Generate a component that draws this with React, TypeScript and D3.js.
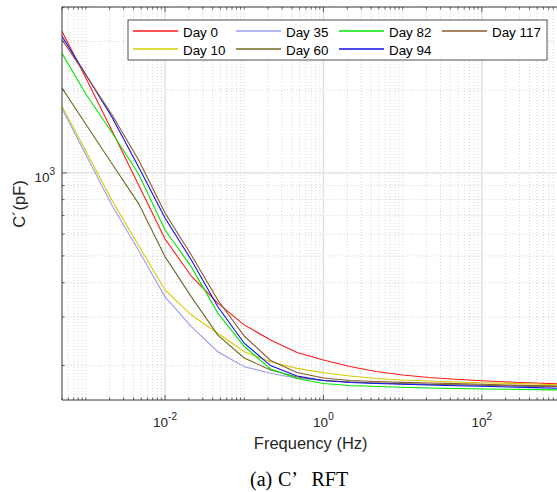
import React from "react";
import * as d3 from "d3";

const freq = [4.64e-4, 1e-3, 2.15e-3, 4.64e-3, 0.01, 0.0215, 0.0464, 0.1, 0.215, 0.464, 1, 2.15, 4.64, 10, 21.5, 46.4, 100, 215, 464, 1000];

const day0 = [3400, 2210, 1419, 904, 576, 422, 337, 281, 247.5, 223, 209.5, 198.4, 190.3, 184.8, 181, 178.3, 176.2, 174.3, 172.9, 171.4];
const day10 = [1816, 1201, 793, 545, 376, 305, 262, 224.5, 206.5, 195.4, 188.4, 183.3, 179.5, 177.2, 175.8, 174.3, 173.3, 172.4, 171.4, 170.0];
const day35 = [1783, 1165, 762, 523, 355, 277, 224.5, 198, 187.5, 179.8, 176.5, 174.3, 172.9, 171.8, 170.7, 170.0, 169.3, 168.6, 168.1, 167.5];
const day60 = [2102, 1501, 1077, 774, 497, 355, 258, 213, 192.7, 181.7, 176.5, 174.3, 172.9, 171.9, 171.0, 170.3, 169.6, 169.0, 168.5, 167.9];
const day82 = [2816, 1933, 1396, 991, 621, 456, 310, 235, 194.3, 179.5, 172.1, 169.3, 167.9, 166.8, 165.8, 165.1, 164.4, 164.0, 163.6, 163.1];
const day94 = [3245, 2275, 1589, 1050, 686, 483, 327, 241, 200, 183.3, 176.5, 173.6, 172.1, 171.0, 170.0, 169.0, 168.2, 167.3, 166.4, 165.4];
const day117 = [3138, 2266, 1622, 1114, 715, 504, 346, 256, 208.6, 188.7, 180.3, 176.5, 175, 173.8, 172.9, 172.0, 171.0, 170.0, 169.2, 168.3];

const seriesNames = ["Day 0", "Day 10", "Day 35", "Day 60", "Day 82", "Day 94", "Day 117"];
const seriesValues = [day0, day10, day35, day60, day82, day94, day117];
const seriesColors = ["#ff1a1a", "#d6cc00", "#9c9cf0", "#6e6a22", "#00e600", "#1010ee", "#8c5a2e"];

const xMajor = [1e-2, 1, 100];
const xMajorExp = ["-2", "0", "2"];
const yMajor = [1000];
const yMajorExp = ["3"];

const W = 557;
const H = 492;
const L = 62, R = 561, T = 7, B = 400;

export default function App() {
  const x = d3.scaleLog().domain([5e-4, 1000]).range([L, R]);
  const y = d3.scaleLog().domain([150, 4000]).range([B, T]);

  const xMinor: number[] = [];
  for (let e = -4; e <= 3; e++) {
    for (let m = 1; m <= 9; m++) {
      const v = m * Math.pow(10, e);
      if (v >= 5e-4 * 0.999 && v <= 1000 * 1.001 && !xMajor.some((t) => Math.abs(t - v) / t < 1e-6)) xMinor.push(v);
    }
  }
  const yMinor: number[] = [];
  for (let e = 2; e <= 3; e++) {
    for (let m = 1; m <= 9; m++) {
      const v = m * Math.pow(10, e);
      if (v >= 150 && v <= 4000 * 1.001 && v !== 1000) yMinor.push(v);
    }
  }

  const line = d3
    .line<number>()
    .x((_, i) => x(freq[i]))
    .y((d) => y(d));

  const axisColor = "#3a3a3a";
  const font = "'Liberation Sans', Arial, Helvetica, sans-serif";

  const legendCols = [133, 236, 339, 442];
  const legendRows = [31, 49];

  return (
    <svg width={W} height={H} style={{ position: "absolute", left: 0, top: 0, background: "#fff" }} fontFamily={font}>
      <defs>
        <clipPath id="plotclip">
          <rect x={L} y={T} width={R - L} height={B - T} />
        </clipPath>
      </defs>
      <rect x={0} y={0} width={W} height={H} fill="#fff" />
      {/* minor grid */}
      {xMinor.map((v, i) => (
        <line key={"xg" + i} x1={x(v)} x2={x(v)} y1={T} y2={B} stroke="#c4c4c4" strokeWidth={0.7} strokeDasharray="1 2" />
      ))}
      {yMinor.map((v, i) => (
        <line key={"yg" + i} x1={L} x2={R} y1={y(v)} y2={y(v)} stroke="#c4c4c4" strokeWidth={0.7} strokeDasharray="1 2" />
      ))}
      {/* major grid */}
      {xMajor.map((v, i) => (
        <line key={"xG" + i} x1={x(v)} x2={x(v)} y1={T} y2={B} stroke="#dedede" strokeWidth={1.3} />
      ))}
      {yMajor.map((v, i) => (
        <line key={"yG" + i} x1={L} x2={R} y1={y(v)} y2={y(v)} stroke="#dedede" strokeWidth={1.3} />
      ))}
      {/* series */}
      <g clipPath="url(#plotclip)">
        {seriesValues.map((vals, i) => (
          <path key={"s" + i} d={line(vals) || ""} fill="none" stroke={seriesColors[i]} strokeWidth={1.1} />
        ))}
      </g>
      {/* axes box */}
      <line x1={L} x2={R} y1={B} y2={B} stroke={axisColor} strokeWidth={1} />
      <line x1={L} x2={R} y1={T} y2={T} stroke={axisColor} strokeWidth={1} />
      <line x1={L} x2={L} y1={T} y2={B} stroke={axisColor} strokeWidth={1} />
      {/* ticks */}
      {xMinor.map((v, i) => (
        <g key={"xt" + i}>
          <line x1={x(v)} x2={x(v)} y1={B} y2={B - 2.5} stroke={axisColor} strokeWidth={0.8} />
          <line x1={x(v)} x2={x(v)} y1={T} y2={T + 2.5} stroke={axisColor} strokeWidth={0.8} />
        </g>
      ))}
      {xMajor.map((v, i) => (
        <g key={"xT" + i}>
          <line x1={x(v)} x2={x(v)} y1={B} y2={B - 5} stroke={axisColor} strokeWidth={0.8} />
          <line x1={x(v)} x2={x(v)} y1={T} y2={T + 5} stroke={axisColor} strokeWidth={0.8} />
          <text x={x(v)} y={427} textAnchor="middle" fontSize={13.5} fill="#262626">
            10
            <tspan fontSize={10} dy={-7}>{xMajorExp[i]}</tspan>
          </text>
        </g>
      ))}
      {yMinor.map((v, i) => (
        <line key={"yt" + i} x1={L} x2={L + 2.5} y1={y(v)} y2={y(v)} stroke={axisColor} strokeWidth={0.8} />
      ))}
      {yMajor.map((v, i) => (
        <g key={"yT" + i}>
          <line x1={L} x2={L + 5} y1={y(v)} y2={y(v)} stroke={axisColor} strokeWidth={0.8} />
          <text x={55} y={y(v) + 9} textAnchor="end" fontSize={13.5} fill="#262626">
            10
            <tspan fontSize={10} dy={-7}>{yMajorExp[i]}</tspan>
          </text>
        </g>
      ))}
      {/* axis labels */}
      <text x={310.7} y={449} textAnchor="middle" fontSize={16.5} fill="#262626">Frequency (Hz)</text>
      <text transform="translate(25,204) rotate(-90)" textAnchor="middle" fontSize={16.5} fill="#262626">C´(pF)</text>
      {/* legend */}
      <rect x={128} y={20} width={419} height={40} fill="#fff" stroke="#262626" strokeWidth={0.8} />
      {seriesNames.map((name, i) => {
        const c = Math.floor(i / 2);
        const r = i % 2;
        const lx = legendCols[c];
        const ly = legendRows[r];
        return (
          <g key={"lg" + i}>
            <line x1={lx} x2={lx + 45} y1={ly} y2={ly} stroke={seriesColors[i]} strokeWidth={1.6} />
            <text x={lx + 50} y={ly + 5.5} fontSize={13.4} fill="#000">{name}</text>
          </g>
        );
      })}
      {/* caption */}
      <text y={486} fontSize={20} fontFamily="'Liberation Serif', 'Times New Roman', serif" fill="#000">
        <tspan x={250}>(a)</tspan>
        <tspan x={278}>C’</tspan>
        <tspan x={311.5}>RFT</tspan>
      </text>
    </svg>
  );
}
